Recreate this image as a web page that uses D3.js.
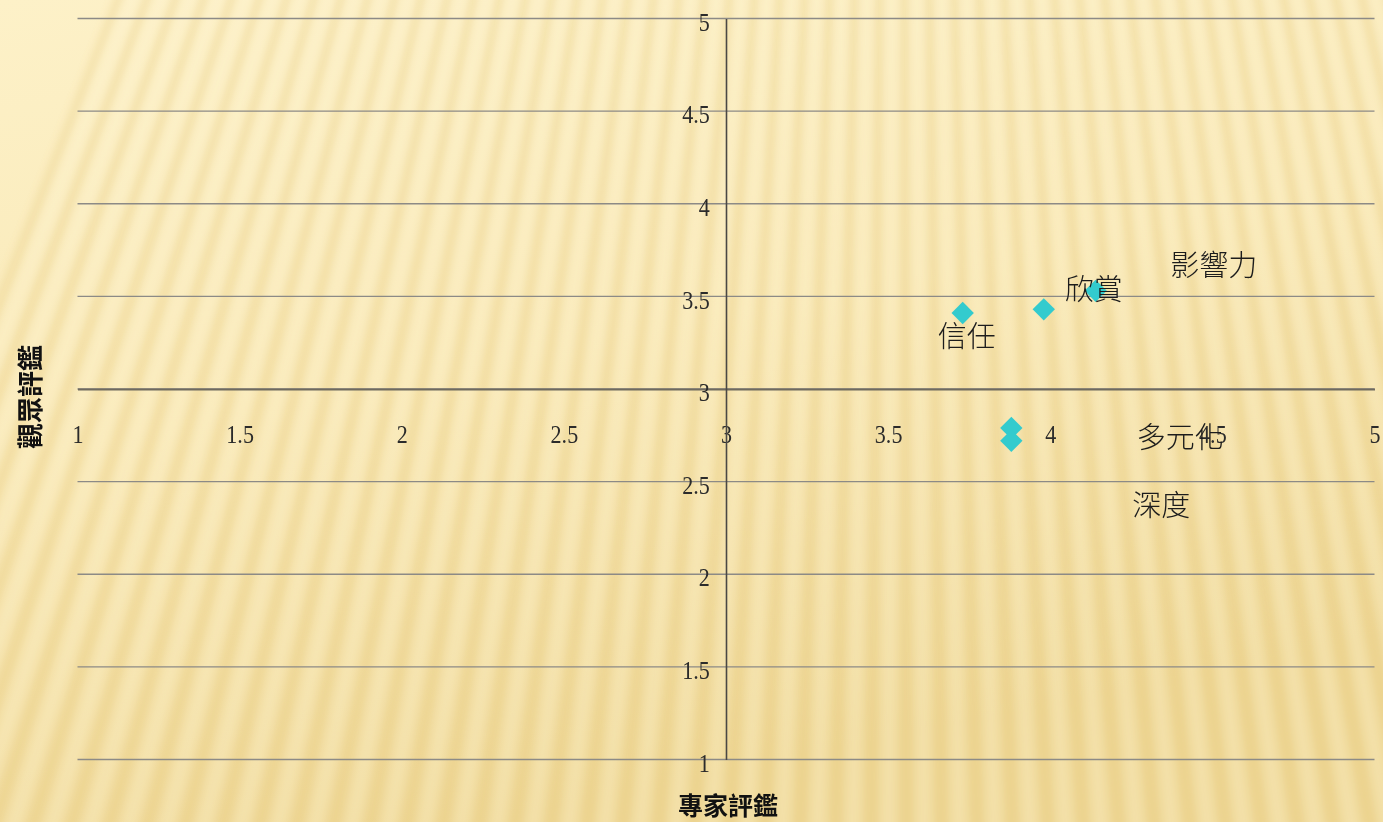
<!DOCTYPE html>
<html>
<head>
<meta charset="utf-8">
<script src="https://cdn.jsdelivr.net/npm/d3@7"></script>
<style>
  html, body { margin: 0; padding: 0; background: #fdf1c8; }
  svg { display: block; }
</style>
</head>
<body>
<svg id="chart" width="1383" height="822"></svg>
<script>
// Quadrant scatter: expert rating (x) vs audience rating (y)
const categories = ["信任", "欣賞", "影響力", "多元化", "深度"];
const expertScores = [3.73, 3.98, 4.14, 3.88, 3.88];
const audienceScores = [3.41, 3.43, 3.53, 2.79, 2.72];
const xTickValues = [1, 1.5, 2, 2.5, 3, 3.5, 4, 4.5, 5];
const yTickValues = [1, 1.5, 2, 2.5, 3, 3.5, 4, 4.5, 5];
const xTitle = "專家評鑑";
const yTitle = "觀眾評鑑";

// Label placement relative to each marker (pixels)
const labelOffsets = [[4, 21], [50, -22], [118, -28], [169, 7], [150, 62]];

const W = 1383, H = 822;
const svg = d3.select("#chart");
const defs = svg.append("defs");

// ---- background: warm paper with soft radiating ridges ----
const bg = defs.append("linearGradient").attr("id", "bgGrad")
  .attr("x1", 0).attr("y1", 0).attr("x2", 0.35).attr("y2", 1);
bg.append("stop").attr("offset", 0).attr("stop-color", "#fdf1c8");
bg.append("stop").attr("offset", 0.5).attr("stop-color", "#f9e9b7");
bg.append("stop").attr("offset", 1).attr("stop-color", "#f0da9b");
svg.append("rect").attr("width", W).attr("height", H).attr("fill", "url(#bgGrad)");

defs.append("filter").attr("id", "soft")
  .attr("x", "-10%").attr("y", "-10%").attr("width", "120%").attr("height", "120%")
  .append("feGaussianBlur").attr("stdDeviation", 3.5);

const vp = [900, -2000];
const step = 0.0125;
const rays = d3.range(-30, 30);
const ridges = svg.append("g").attr("filter", "url(#soft)");
function rayPoint(a, yy) {
  const t = (yy - vp[1]) / Math.cos(a);
  return [vp[0] + Math.sin(a) * t, yy];
}
function wedge(a0, a1) {
  const p = [rayPoint(a0, -20), rayPoint(a1, -20), rayPoint(a1, H + 20), rayPoint(a0, H + 20)];
  return "M" + p.map(q => q.join(",")).join("L") + "Z";
}
ridges.selectAll("path.dark").data(rays).join("path")
  .attr("class", "dark")
  .attr("d", i => wedge(i * step, i * step + step * 0.35))
  .attr("fill", "#e0c26c").attr("opacity", 0.24);
ridges.selectAll("path.light").data(rays).join("path")
  .attr("class", "light")
  .attr("d", i => wedge(i * step + step * 0.5, i * step + step * 0.85))
  .attr("fill", "#fff8dc").attr("opacity", 0.22);

// ---- scales ----
const x = d3.scaleLinear().domain([1, 5]).range([77.5, 1374.5]);
const y = d3.scaleLinear().domain([1, 5]).range([759.5, 18.5]);

// horizontal gridlines
svg.append("g").selectAll("line").data(yTickValues).join("line")
  .attr("x1", x(1)).attr("x2", x(5))
  .attr("y1", d => y(d)).attr("y2", d => y(d))
  .attr("stroke", "#8c8a86").attr("stroke-width", 1.3);

const tickFont = "'Liberation Serif', 'Times New Roman', serif";

// x axis crossing at y = 3
const gx = svg.append("g").attr("transform", `translate(0,${y(3)})`)
  .call(d3.axisBottom(x).tickValues(xTickValues).tickFormat(d3.format("")).tickSize(0).tickSizeOuter(0).tickPadding(35.5));
gx.select(".domain").attr("stroke", "#6f6a5e").attr("stroke-width", 2);
gx.selectAll("text").attr("font-family", tickFont).attr("font-size", 26)
  .attr("fill", "#2b2b2b").attr("transform", "scale(0.85,1)");

// y axis crossing at x = 3
const gy = svg.append("g").attr("transform", `translate(${x(3)},0)`)
  .call(d3.axisLeft(y).tickValues(yTickValues).tickFormat(d3.format("")).tickSize(0).tickSizeOuter(0).tickPadding(19));
gy.select(".domain").attr("stroke", "#4a4844").attr("stroke-width", 1.6);
gy.selectAll("text").attr("font-family", tickFont).attr("font-size", 26)
  .attr("dy", "0.45em").attr("fill", "#2b2b2b").attr("transform", "scale(0.85,1)");

// ---- markers ----
const pts = categories.map((c, i) => ({ c, ex: expertScores[i], au: audienceScores[i], off: labelOffsets[i] }));
const diamond = d3.symbol(d3.symbolSquare, 250);
svg.append("g").selectAll("path").data(pts).join("path")
  .attr("d", diamond)
  .attr("transform", d => `translate(${x(d.ex)},${y(d.au)}) rotate(45)`)
  .attr("fill", "#33cbce");

// data labels
const cjk = "'Noto Sans CJK TC', 'Noto Sans CJK SC', sans-serif";
svg.append("g").selectAll("text").data(pts).join("text")
  .attr("x", d => x(d.ex) + d.off[0])
  .attr("y", d => y(d.au) + d.off[1])
  .attr("text-anchor", "middle").attr("dominant-baseline", "central")
  .attr("font-family", cjk).attr("font-size", 29).attr("font-weight", 300)
  .attr("fill", "#1c1c1c")
  .text(d => d.c);

// axis titles
svg.append("text")
  .attr("x", 728).attr("y", 804)
  .attr("text-anchor", "middle").attr("dominant-baseline", "central")
  .attr("font-family", cjk).attr("font-size", 25).attr("font-weight", 700)
  .attr("fill", "#111").text(xTitle);
svg.append("text")
  .attr("transform", "translate(28,397) rotate(-90)")
  .attr("text-anchor", "middle").attr("dominant-baseline", "central")
  .attr("font-family", cjk).attr("font-size", 26).attr("font-weight", 700)
  .attr("fill", "#111").text(yTitle);
</script>
</body>
</html>
